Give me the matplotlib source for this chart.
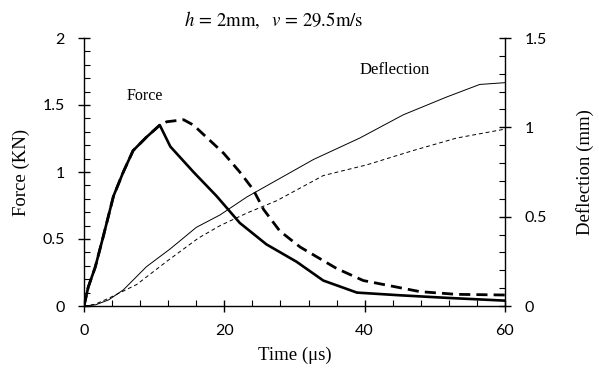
import matplotlib
matplotlib.use("Agg")
import matplotlib.pyplot as plt
from matplotlib.ticker import MultipleLocator, FuncFormatter

# Force (KN) - solid thick
t_force_a = [0, 0.6, 1.6, 2.75, 4.2, 5.6, 7.0, 8.9, 10.8, 12.3, 15.6, 18.9, 22.2, 26.0, 30.3, 34.1, 38.9, 45.0, 52.0, 60.0]
f_force_a = [0, 0.14, 0.29, 0.52, 0.82, 1.00, 1.16, 1.26, 1.35, 1.19, 1.00, 0.82, 0.62, 0.46, 0.33, 0.19, 0.10, 0.08, 0.06, 0.04]
# Force (KN) - dashed thick
t_force_b = [0, 0.6, 1.6, 2.75, 4.2, 5.6, 7.0, 8.9, 10.8, 11.8, 14.2, 15.6, 19.9, 22.2, 24.1, 25.6, 27.9, 30.8, 36.0, 39.8, 47.9, 53.1, 60.0]
f_force_b = [0, 0.14, 0.29, 0.52, 0.82, 1.00, 1.16, 1.26, 1.35, 1.375, 1.39, 1.35, 1.14, 1.00, 0.87, 0.72, 0.56, 0.44, 0.28, 0.19, 0.107, 0.087, 0.082]
# Deflection (mm) - thin solid
t_def_a = [0, 1.6, 3.5, 5.6, 8.9, 12.3, 16.0, 19.4, 23.2, 27.5, 32.7, 39.3, 45.5, 51.7, 56.4, 60.0]
d_def_a = [0, 0.006, 0.034, 0.09, 0.22, 0.32, 0.44, 0.51, 0.61, 0.705, 0.82, 0.94, 1.07, 1.17, 1.24, 1.25]
# Deflection (mm) - thin dashed
t_def_b = [0, 1.6, 3.5, 7.5, 11.8, 16.3, 19.4, 23.2, 27.5, 34.1, 40.3, 46.9, 53.1, 60.0]
d_def_b = [0, 0.01, 0.043, 0.12, 0.25, 0.38, 0.45, 0.52, 0.59, 0.73, 0.79, 0.87, 0.94, 0.99]

serif = "Liberation Serif"
tickfont = "Lato"

fig = plt.figure(figsize=(5.99, 3.74), dpi=100)
ax = fig.add_axes([84/599, 1-306/374, (505-84)/599, (306-38)/374])
ax2 = ax.twinx()

ax.plot(t_force_a, f_force_a, color="black", lw=1.9)
ax.plot(t_force_b, f_force_b, color="black", lw=2.0, dashes=(4, 2.2))
ax2.plot(t_def_a, d_def_a, color="black", lw=0.7)
ax2.plot(t_def_b, d_def_b, color="black", lw=0.7, dashes=(4, 3))

ax.set_xlim(0, 60)
ax.set_ylim(0, 2)
ax2.set_ylim(0, 1.5)

for a in (ax, ax2):
    a.spines["top"].set_visible(False)
    for s in a.spines.values():
        s.set_linewidth(1.0)
ax.spines["right"].set_visible(False)
ax2.spines["left"].set_visible(False)
ax2.spines["bottom"].set_visible(False)

ax.xaxis.set_major_locator(MultipleLocator(20))
ax.xaxis.set_minor_locator(MultipleLocator(4))
ax.yaxis.set_major_locator(MultipleLocator(0.5))
ax.yaxis.set_minor_locator(MultipleLocator(0.1))
ax2.yaxis.set_major_locator(MultipleLocator(0.5))
ax2.yaxis.set_minor_locator(MultipleLocator(0.1))

def fmt(v, p):
    return ("%g" % v)

ax.xaxis.set_major_formatter(FuncFormatter(fmt))
ax.yaxis.set_major_formatter(FuncFormatter(fmt))
ax2.yaxis.set_major_formatter(FuncFormatter(fmt))

ax.tick_params(axis="x", which="major", direction="inout", length=8, width=1.0, labelsize=11.5, pad=9)
ax.tick_params(axis="y", which="major", direction="inout", length=8, width=1.0, labelsize=11.5, pad=10)
ax.tick_params(axis="both", which="minor", direction="in", length=4, width=0.8)
ax2.tick_params(axis="y", which="major", direction="inout", length=8, width=1.0, labelsize=11.5, pad=10)
ax2.tick_params(axis="y", which="minor", direction="in", length=4, width=0.8)
for lab in ax.get_xticklabels() + ax.get_yticklabels() + ax2.get_yticklabels():
    lab.set_fontfamily(tickfont)

ax.set_xlabel("Time (\u03bcs)", fontfamily=serif, fontsize=13.5, labelpad=6)
ax.set_ylabel("Force (KN)", fontfamily=serif, fontsize=13.5, labelpad=9)
ax2.set_ylabel("Deflection (mm)", fontfamily=serif, fontsize=13.5, labelpad=21)

ax.text(8.7, 1.57, "Force", fontfamily=serif, fontsize=11.5, ha="center", va="center")
ax.text(44.3, 1.76, "Deflection", fontfamily=serif, fontsize=12, ha="center", va="center")

fig.text(274/599, 1-20/374, r"$h\,=\,\mathrm{2mm,}\ \ v\,=\,\mathrm{29.5m/s}$",
         fontsize=13.5, ha="center", va="center", math_fontfamily="stix")

fig.savefig("out.png", dpi=100)
